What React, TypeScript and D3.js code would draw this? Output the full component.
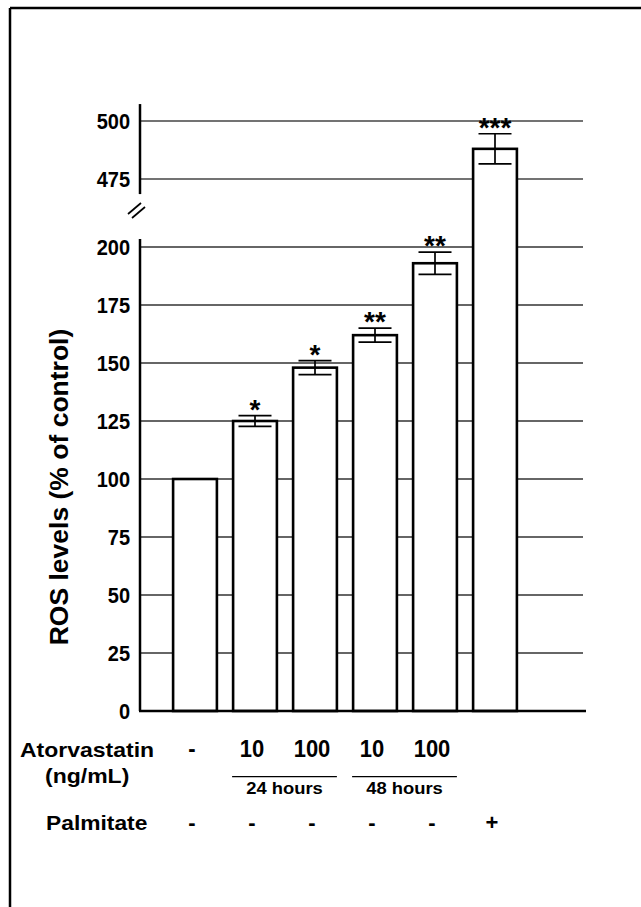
import React from "react";
import * as d3 from "d3";

const categories = ["Control", "Ator10_24h", "Ator100_24h", "Ator10_48h", "Ator100_48h", "Palmitate"];
const values = [100, 125, 148, 162, 193, 488];
const errors = [0, 2.3, 3, 3, 4.8, 6.5];
const stars = ["", "*", "*", "**", "**", "***"];
const atorvastatinLabels = ["-", "10", "100", "10", "100", ""];
const palmitateLabels = ["-", "-", "-", "-", "-", "+"];
const lowerTicks = [0, 25, 50, 75, 100, 125, 150, 175, 200];
const upperTicks = [475, 500];
const timeGroups = [
  { label: "24 hours", from: 1, to: 2 },
  { label: "48 hours", from: 3, to: 4 },
];

const W = 641;
const H = 907;
const FONT = "'Liberation Sans', Arial, Helvetica, sans-serif";

export default function App() {
  const axisX = 140;
  const gridRight = 583;
  const axisRight = 586;

  const x = d3
    .scaleBand<string>()
    .domain(categories)
    .range([165, 525])
    .paddingInner(0.27)
    .paddingOuter(0.135);
  const bw = x.bandwidth();

  const yL = d3.scaleLinear().domain([0, 200]).range([711, 247]);
  const yU = d3.scaleLinear().domain([475, 500]).range([179, 121]);
  const yv = (v: number) => (v > 300 ? yU(v) : yL(v));

  const capW = 33;

  return (
    <svg
      width={W}
      height={H}
      style={{ position: "absolute", left: 0, top: 0, background: "#fff" }}
      fontFamily={FONT}
    >
      <rect x={0} y={0} width={W} height={H} fill="#fff" />
      {/* frame */}
      <line x1={10} y1={8} x2={W} y2={8} stroke="#000" strokeWidth={2.5} />
      <line x1={10} y1={8} x2={10} y2={H} stroke="#000" strokeWidth={2.5} />

      {/* gridlines */}
      {lowerTicks
        .filter((t) => t > 0)
        .map((t) => (
          <line key={"gl" + t} x1={axisX} x2={gridRight} y1={yL(t)} y2={yL(t)} stroke="#333" strokeWidth={1.3} />
        ))}
      {upperTicks.map((t) => (
        <line key={"gu" + t} x1={axisX} x2={gridRight} y1={yU(t)} y2={yU(t)} stroke="#444" strokeWidth={1.5} />
      ))}

      {/* bars */}
      {categories.map((c, i) => (
        <rect
          key={"b" + c}
          x={x(c)!}
          y={yv(values[i])}
          width={bw}
          height={yL(0) - yv(values[i])}
          fill="#fff"
          stroke="#000"
          strokeWidth={2.6}
        />
      ))}

      {/* error bars */}
      {categories.map((c, i) => {
        if (!errors[i]) return null;
        const cx = x(c)! + bw / 2;
        const top = yv(values[i] + errors[i]);
        const bot = yv(values[i] - errors[i]);
        return (
          <g key={"e" + c} stroke="#000" strokeWidth={1.7}>
            <line x1={cx} x2={cx} y1={top} y2={bot} />
            <line x1={cx - capW / 2} x2={cx + capW / 2} y1={top} y2={top} />
            <line x1={cx - capW / 2} x2={cx + capW / 2} y1={bot} y2={bot} />
          </g>
        );
      })}

      {/* significance stars */}
      {categories.map((c, i) => {
        if (!stars[i]) return null;
        const cx = x(c)! + bw / 2;
        const top = yv(values[i] + errors[i]);
        return (
          <text key={"s" + c} x={cx} y={top + 3} textAnchor="middle" fontSize={28} fontWeight="bold">
            {stars[i]}
          </text>
        );
      })}

      {/* axes */}
      <line x1={axisX} x2={axisX} y1={yL(0)} y2={yL(203.5)} stroke="#000" strokeWidth={2.5} />
      <line x1={axisX} x2={axisX} y1={yU(468.5)} y2={yU(507.3)} stroke="#000" strokeWidth={2.5} />
      <line x1={axisX - 1} x2={axisRight} y1={yL(0)} y2={yL(0)} stroke="#000" strokeWidth={2.5} />

      {/* break marks */}
      <line x1={128} y1={214} x2={141} y2={203} stroke="#000" strokeWidth={1.7} />
      <line x1={132} y1={218} x2={145} y2={207} stroke="#000" strokeWidth={1.7} />

      {/* tick labels */}
      {lowerTicks.map((t) => (
        <text
          key={"tl" + t}
          transform={`translate(130,${yL(t) + 7.8}) scale(1,1.08)`}
          textAnchor="end"
          fontSize={20}
          fontWeight="bold"
        >
          {t}
        </text>
      ))}
      {upperTicks.map((t) => (
        <text
          key={"tu" + t}
          transform={`translate(130,${yU(t) + 7.8}) scale(1,1.08)`}
          textAnchor="end"
          fontSize={20}
          fontWeight="bold"
        >
          {t}
        </text>
      ))}

      {/* y axis title */}
      <text transform="translate(68,487) rotate(-90)" textAnchor="middle" fontSize={26.5} fontWeight="bold">
        ROS levels (% of control)
      </text>

      {/* bottom labels */}
      <text transform="translate(20,756.7) scale(1.15,1)" fontSize={20} fontWeight="bold">
        Atorvastatin
      </text>
      <text transform="translate(45,783) scale(1.15,1)" fontSize={20} fontWeight="bold">
        (ng/mL)
      </text>
      <text transform="translate(46,830) scale(1.14,1)" fontSize={20} fontWeight="bold">
        Palmitate
      </text>

      {categories.map((c, i) => (
        <text
          key={"a" + c}
          transform={`translate(${x(c)! + bw / 2 - 3},756.7) scale(1,1.06)`}
          textAnchor="middle"
          fontSize={22}
          fontWeight="bold"
        >
          {atorvastatinLabels[i]}
        </text>
      ))}
      {categories.map((c, i) => (
        <text
          key={"p" + c}
          x={x(c)! + bw / 2 - 3}
          y={830}
          textAnchor="middle"
          fontSize={22}
          fontWeight="bold"
        >
          {palmitateLabels[i]}
        </text>
      ))}

      {timeGroups.map((g) => {
        const x1 = x(categories[g.from])! - 1;
        const x2 = x(categories[g.to])! + bw;
        const cx = (x1 + x2) / 2;
        return (
          <g key={g.label}>
            <line x1={x1} x2={x2} y1={776.7} y2={776.7} stroke="#000" strokeWidth={1.3} />
            <text transform={`translate(${cx},794.3) scale(1.15,1)`} textAnchor="middle" fontSize={16} fontWeight="bold">
              {g.label}
            </text>
          </g>
        );
      })}
    </svg>
  );
}
